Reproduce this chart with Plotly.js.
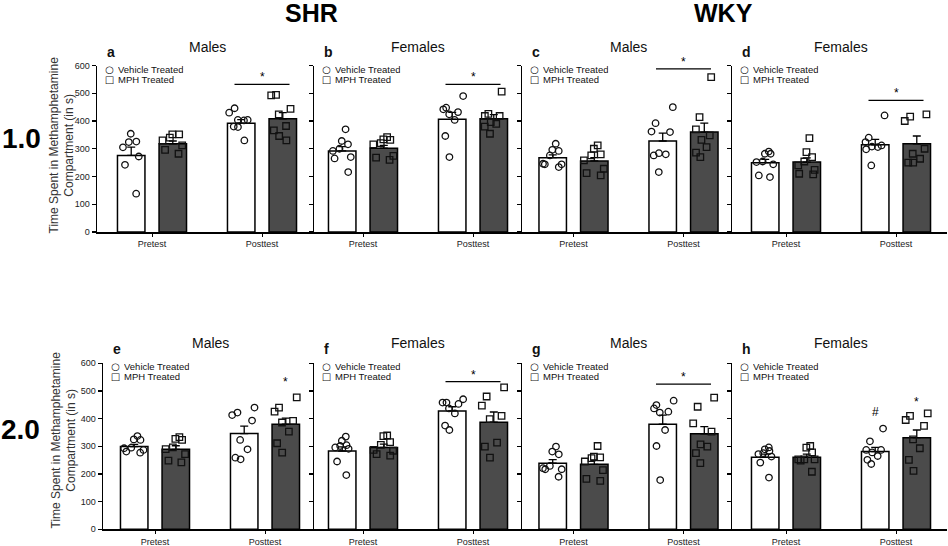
<!DOCTYPE html>
<html>
<head>
<meta charset="utf-8">
<script src="https://cdn.plot.ly/plotly-3.0.1.min.js"></script>
<style>
html, body { margin: 0; padding: 0; background: #fff; }
#myDiv { width: 948px; height: 546px; }
</style>
</head>
<body>
<div id="myDiv"></div>
<script>
var categories = ['Pretest', 'Posttest'];
var panelLetters = ['a', 'b', 'c', 'd', 'e', 'f', 'g', 'h'];
var panelSex = ['Males', 'Females', 'Males', 'Females', 'Males', 'Females', 'Males', 'Females'];
var strains = ['SHR', 'WKY'];
var doses = ['1.0', '2.0'];
var yTitle = 'Time Spent in Methamphetamine<br>Compartment (in s)';

// bar heights (mean) and SEM, [Pretest, Posttest] per panel
var vehicleMean = [[276, 392], [292, 406], [268, 328], [250, 314], [299, 346], [283, 428], [239, 380], [260, 281]];
var vehicleSem = [[30, 13], [16, 25], [10, 28], [12, 20], [8, 27], [15, 15], [13, 33], [12, 15]];
var mphMean = [[318, 408], [302, 408], [256, 360], [252, 318], [289, 380], [296, 387], [235, 345], [260, 331]];
var mphSem = [[10, 22], [10, 15], [12, 32], [15, 28], [13, 22], [12, 37], [14, 26], [12, 28]];

// individual animals
var vehiclePre = [
  [354, 326, 324, 305, 272, 242, 138],
  [370, 328, 316, 300, 292, 270, 265, 216],
  [318, 296, 292, 276, 246, 244, 244, 234],
  [290, 282, 282, 254, 252, 244, 204, 198],
  [337, 325, 323, 295, 293, 287, 281, 277],
  [335, 320, 304, 301, 296, 291, 245, 196],
  [299, 281, 271, 229, 221, 217, 217, 190],
  [296, 289, 283, 275, 272, 263, 241, 187]
];
var vehiclePost = [
  [446, 430, 404, 404, 402, 380, 378, 330],
  [490, 448, 442, 432, 424, 404, 346, 270],
  [450, 392, 362, 360, 284, 280, 276, 216],
  [420, 340, 324, 312, 308, 306, 298, 240],
  [440, 422, 413, 393, 323, 289, 259, 253],
  [470, 458, 458, 453, 437, 419, 375, 359],
  [465, 449, 437, 425, 422, 359, 301, 178],
  [364, 318, 287, 287, 278, 265, 251, 236]
];
var mphPre = [
  [352, 352, 340, 330, 312, 296, 282],
  [342, 334, 332, 320, 316, 274, 268, 260],
  [312, 300, 280, 276, 258, 228, 212, 204],
  [338, 288, 270, 254, 240, 224, 210, 208],
  [333, 327, 323, 296, 290, 272, 248, 242],
  [339, 337, 315, 305, 287, 284, 272, 266],
  [301, 263, 260, 257, 245, 214, 182, 175],
  [301, 295, 278, 253, 253, 253, 248, 208]
];
var mphPost = [
  [494, 492, 444, 424, 382, 366, 346, 330],
  [506, 426, 418, 418, 396, 390, 380, 354],
  [558, 414, 370, 348, 332, 306, 286, 270],
  [424, 416, 400, 300, 282, 264, 250, 250],
  [477, 440, 425, 392, 386, 353, 311, 277],
  [513, 480, 447, 410, 398, 313, 299, 259],
  [476, 443, 383, 353, 307, 299, 275, 239],
  [419, 410, 395, 374, 325, 293, 251, 211]
];

// significance marks
var sigLineY = [532, 532, 588, 474, null, 534, 525, null];
var mphStarY = [null, null, null, null, 513, null, null, 443];
var vehicleHashY = [null, null, null, null, null, null, null, 398];

var W = 948, H = 546;
var font = 'Liberation Sans, Arial, sans-serif';
var axisLeft = [97, 314, 522, 732, 103, 314, 522, 732];
var axisRight = [314, 522, 732, 947, 314, 522, 732, 947];
var firstCat = [152, 363, 573.5, 786, 155, 363, 573.5, 786];
var catStep = 110;
var rowTop = [65.5, 363.3];
var rowBottom = [232, 529.3];
var barShift = 20.75;

function px(y) { return 1 - y / H; }

var data = [];
var shapes = [];
var annotations = [];
var layout = {
  width: W, height: H,
  margin: {l: 0, r: 0, t: 0, b: 0},
  paper_bgcolor: '#fff',
  plot_bgcolor: 'rgba(0,0,0,0)',
  showlegend: false,
  barmode: 'group', bargap: 0.244, bargroupgap: 0.339,
  boxmode: 'group', boxgap: 0.244, boxgroupgap: 0.339,
  font: {family: font, color: '#222'}
};

function note(x, y, text, size, opts) {
  var a = {xref: 'paper', yref: 'paper', x: x / W, y: px(y), xanchor: 'center', yanchor: 'middle',
    showarrow: false, text: text, font: {size: size, color: '#111', family: font}};
  for (var k in opts) a[k] = opts[k];
  annotations.push(a);
}

for (var i = 0; i < 8; i++) {
  var n = i === 0 ? '' : String(i + 1);
  var xa = 'x' + n, ya = 'y' + n;
  var row = i < 4 ? 0 : 1;

  data.push({
    type: 'bar', x: categories, y: vehicleMean[i], xaxis: xa, yaxis: ya, offsetgroup: 'veh',
    marker: {color: '#fff', line: {color: '#000', width: 1.5}},
    error_y: {type: 'data', symmetric: false, array: vehicleSem[i], arrayminus: [0, 0],
      color: '#000', thickness: 1.3, width: 4}
  });
  data.push({
    type: 'bar', x: categories, y: mphMean[i], xaxis: xa, yaxis: ya, offsetgroup: 'mph',
    marker: {color: '#4b4b4b', line: {color: '#000', width: 1.5}},
    error_y: {type: 'data', symmetric: false, array: mphSem[i], arrayminus: [0, 0],
      color: '#000', thickness: 1.3, width: 4}
  });

  var vx = vehiclePre[i].map(function () { return 'Pretest'; })
    .concat(vehiclePost[i].map(function () { return 'Posttest'; }));
  var mx = mphPre[i].map(function () { return 'Pretest'; })
    .concat(mphPost[i].map(function () { return 'Posttest'; }));

  data.push({
    type: 'box', x: vx, y: vehiclePre[i].concat(vehiclePost[i]), xaxis: xa, yaxis: ya, offsetgroup: 'veh',
    boxpoints: 'all', jitter: 0.9, pointpos: 0,
    fillcolor: 'rgba(0,0,0,0)', line: {color: 'rgba(0,0,0,0)', width: 0},
    marker: {symbol: 'circle-open', size: 6.5, color: '#111', line: {width: 1.3, color: '#111'}}
  });
  data.push({
    type: 'box', x: mx, y: mphPre[i].concat(mphPost[i]), xaxis: xa, yaxis: ya, offsetgroup: 'mph',
    boxpoints: 'all', jitter: 0.9, pointpos: 0,
    fillcolor: 'rgba(0,0,0,0)', line: {color: 'rgba(0,0,0,0)', width: 0},
    marker: {symbol: 'square-open', size: 6.5, color: '#111', line: {width: 1.3, color: '#111'}}
  });

  var start = -(firstCat[i] - axisLeft[i]) / catStep;
  var end = start + (axisRight[i] - axisLeft[i]) / catStep;

  layout['xaxis' + n] = {
    domain: [axisLeft[i] / W, axisRight[i] / W], range: [start, end], anchor: ya,
    showline: true, linecolor: '#000', linewidth: 1.5,
    ticks: 'outside', ticklen: 3, tickcolor: '#000', tickwidth: 1,
    tickfont: {size: 9, color: '#222', family: font},
    showgrid: false, zeroline: false, fixedrange: true
  };
  layout['yaxis' + n] = {
    domain: [px(rowBottom[row]), px(rowTop[row])], range: [0, 600], dtick: 100, anchor: xa,
    showline: true, linecolor: '#000', linewidth: 1.5,
    ticks: 'outside', ticklen: 4, tickcolor: '#000', tickwidth: 1.3,
    showticklabels: i % 4 === 0,
    tickfont: {size: 9, color: '#222', family: font},
    showgrid: false, zeroline: false, fixedrange: true
  };

  // panel letter, title and legend
  var titleY = row === 0 ? 47 : 343;
  var letterY = row === 0 ? 52 : 349;
  note(axisLeft[i] + 8, letterY, '<b>' + panelLetters[i] + '</b>', 14, {xanchor: 'left'});
  annotations.push({xref: xa, yref: 'paper', x: 0.5, y: px(titleY),
    xanchor: 'center', yanchor: 'middle', showarrow: false, text: panelSex[i],
    font: {size: 14, color: '#111', family: font}});
  var legTop = row === 0 ? 69 : 366;
  var symFont = {size: 10, color: '#111', family: 'DejaVu Sans'};
  note(axisLeft[i] + 12, legTop, '\u25CB', 10, {font: symFont, height: 9, width: 9, borderpad: 0});
  note(axisLeft[i] + 12, legTop + 10, '\u25A1', 10, {font: symFont, height: 9, width: 9, borderpad: 0});
  note(axisLeft[i] + 20, legTop, 'Vehicle Treated', 9.5, {xanchor: 'left', height: 9, borderpad: 0});
  note(axisLeft[i] + 20, legTop + 10, 'MPH Treated', 9.5, {xanchor: 'left', height: 9, borderpad: 0});

  if (sigLineY[i] !== null) {
    shapes.push({type: 'line', xref: xa, yref: ya, x0: 0.75, x1: 1.25, y0: sigLineY[i], y1: sigLineY[i],
      line: {color: '#000', width: 1.3}});
    annotations.push({xref: xa, yref: ya, x: 'Posttest', y: sigLineY[i], yanchor: 'bottom', yshift: -2,
      showarrow: false, text: '*', font: {size: 12, color: '#000', family: font}});
  }
  if (mphStarY[i] !== null) {
    annotations.push({xref: xa, yref: ya, x: 'Posttest', xshift: barShift, y: mphStarY[i], yanchor: 'bottom', yshift: -4,
      showarrow: false, text: '*', font: {size: 12, color: '#000', family: font}});
  }
  if (vehicleHashY[i] !== null) {
    annotations.push({xref: xa, yref: ya, x: 'Posttest', xshift: -barShift, y: vehicleHashY[i], yanchor: 'bottom', yshift: -2,
      showarrow: false, text: '#', font: {size: 12, color: '#000', family: font}});
  }
}

// y-axis titles for the two rows
note(61.5, 145, yTitle, 12, {textangle: -90, font: {size: 12, color: '#333', family: font}});
note(63.5, 440, yTitle, 12, {textangle: -90, font: {size: 12, color: '#333', family: font}});

// strain headers and dose row labels
note(311, 13, '<b>' + strains[0] + '</b>', 25, {font: {size: 25, color: '#000', family: font}});
note(723, 13, '<b>' + strains[1] + '</b>', 25, {font: {size: 25, color: '#000', family: font}});
note(21, 138, '<b>' + doses[0] + '</b>', 28, {font: {size: 28, color: '#000', family: font}});
note(20, 429, '<b>' + doses[1] + '</b>', 28, {font: {size: 28, color: '#000', family: font}});

layout.shapes = shapes;
layout.annotations = annotations;

Plotly.newPlot('myDiv', data, layout, {displayModeBar: false, staticPlot: true});
</script>
</body>
</html>
